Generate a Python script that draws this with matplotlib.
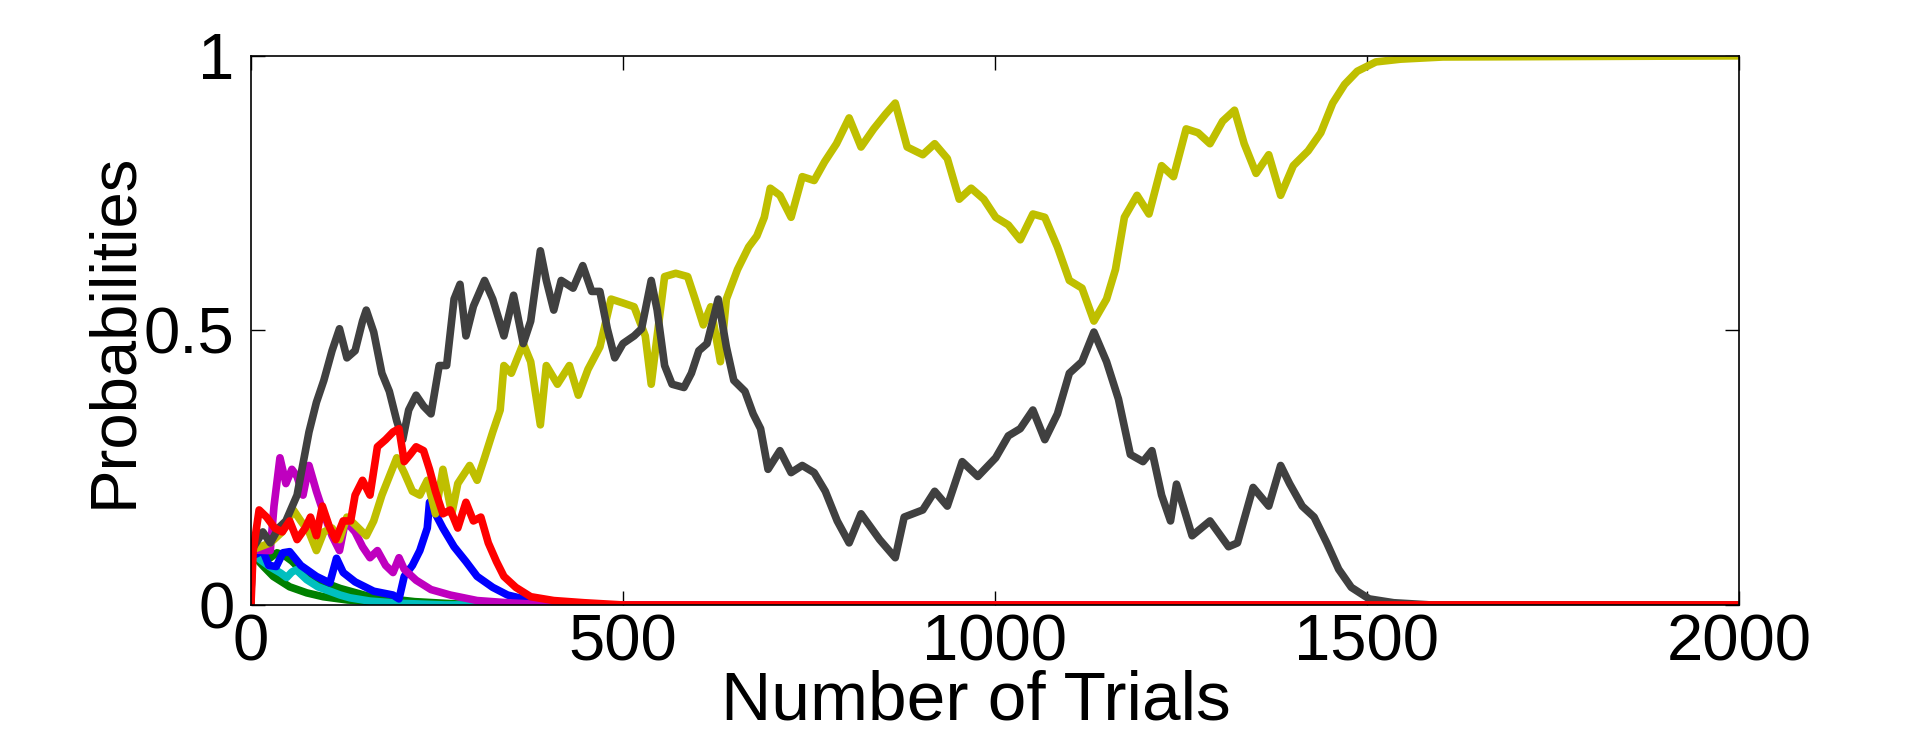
import numpy as np
import matplotlib.pyplot as plt

# trial numbers and probabilities, one pair per curve
gray_t = [0, 1, 16, 26, 37, 47, 62, 78, 88, 98, 109, 119, 129, 140, 150, 155, 165, 176, 186, 196,
          204, 212, 222, 232, 242, 253, 263, 273, 281, 289, 299, 314, 325, 340, 353, 366, 376, 389,
          397, 407, 417, 433, 446, 458, 469, 479, 489, 500, 515, 525, 538, 546, 556, 566, 582, 592,
          602, 613, 628, 639, 649, 664, 675, 685, 695, 711, 726, 741, 757, 772, 788, 804, 820, 845,
          866, 878, 903, 919, 936, 956, 977, 1001, 1018, 1034, 1051, 1067, 1084, 1100, 1117, 1133,
          1150, 1166, 1182, 1199, 1211, 1224, 1236, 1244, 1265, 1289, 1314, 1326, 1347, 1368, 1384,
          1396, 1413, 1429, 1446, 1462, 1479, 1503, 1536, 1586, 2000]
gray_p = [0, 0.10, 0.133, 0.113, 0.14, 0.153, 0.20, 0.315, 0.369, 0.409, 0.463, 0.503, 0.45, 0.463,
          0.517, 0.537, 0.497, 0.422, 0.389, 0.335, 0.301, 0.355, 0.382, 0.362, 0.348, 0.436, 0.436,
          0.557, 0.584, 0.49, 0.544, 0.591, 0.557, 0.49, 0.564, 0.476, 0.517, 0.645, 0.591, 0.537,
          0.591, 0.577, 0.618, 0.571, 0.571, 0.503, 0.45, 0.476, 0.49, 0.503, 0.591, 0.537, 0.436,
          0.402, 0.396, 0.422, 0.463, 0.476, 0.557, 0.47, 0.409, 0.389, 0.348, 0.321, 0.247, 0.281,
          0.241, 0.254, 0.241, 0.207, 0.153, 0.113, 0.166, 0.119, 0.086, 0.16, 0.173, 0.207, 0.18,
          0.261, 0.234, 0.268, 0.308, 0.321, 0.355, 0.301, 0.348, 0.422, 0.443, 0.497, 0.443, 0.375,
          0.274, 0.261, 0.281, 0.20, 0.153, 0.22, 0.126, 0.153, 0.106, 0.113, 0.214, 0.18, 0.254,
          0.221, 0.18, 0.16, 0.113, 0.065, 0.032, 0.011, 0.004, 0.0, 0.0]

yellow_t = [0, 1, 26, 42, 57, 67, 78, 88, 98, 109, 119, 129, 140, 155, 165, 176, 186, 196, 206, 217,
            227, 237, 248, 258, 270, 278, 294, 304, 314, 325, 335, 340, 350, 366, 376, 389, 397, 412,
            428, 440, 453, 469, 484, 500, 515, 530, 538, 546, 556, 571, 587, 597, 608, 618, 631, 639,
            654, 669, 680, 690, 698, 711, 726, 741, 757, 771, 787, 804, 820, 837, 853, 866, 882, 903,
            919, 936, 952, 968, 985, 1001, 1018, 1034, 1051, 1067, 1084, 1100, 1117, 1133, 1150, 1162,
            1174, 1191, 1207, 1224, 1240, 1257, 1273, 1289, 1306, 1322, 1335, 1351, 1368, 1384, 1401,
            1421, 1438, 1454, 1470, 1487, 1512, 1545, 1602, 2000]
yellow_p = [0, 0.10, 0.113, 0.133, 0.173, 0.153, 0.133, 0.099, 0.133, 0.14, 0.119, 0.16, 0.146, 0.126,
            0.153, 0.20, 0.234, 0.268, 0.241, 0.207, 0.20, 0.227, 0.166, 0.247, 0.166, 0.221, 0.254,
            0.227, 0.268, 0.315, 0.355, 0.436, 0.422, 0.476, 0.443, 0.328, 0.436, 0.402, 0.436, 0.382,
            0.429, 0.47, 0.557, 0.55, 0.543, 0.49, 0.402, 0.49, 0.598, 0.604, 0.598, 0.557, 0.51,
            0.543, 0.443, 0.557, 0.611, 0.652, 0.672, 0.706, 0.759, 0.746, 0.706, 0.78, 0.773, 0.807,
            0.84, 0.887, 0.834, 0.867, 0.894, 0.914, 0.834, 0.82, 0.84, 0.813, 0.739, 0.759, 0.739,
            0.706, 0.692, 0.665, 0.712, 0.706, 0.652, 0.591, 0.577, 0.517, 0.557, 0.611, 0.706, 0.746,
            0.712, 0.80, 0.78, 0.867, 0.86, 0.84, 0.881, 0.901, 0.84, 0.786, 0.82, 0.746, 0.80, 0.827,
            0.86, 0.914, 0.948, 0.972, 0.989, 0.994, 0.998, 1.0]

red_t = [0, 3, 11, 21, 32, 42, 52, 62, 73, 80, 88, 96, 106, 114, 124, 134, 140, 150, 160, 170, 181,
         191, 199, 206, 214, 222, 232, 240, 248, 258, 268, 278, 289, 299, 309, 319, 330, 340, 356,
         376, 407, 448, 500, 2000]
red_p = [0, 0.099, 0.173, 0.16, 0.14, 0.133, 0.153, 0.119, 0.14, 0.16, 0.126, 0.18, 0.14, 0.119,
         0.153, 0.153, 0.20, 0.227, 0.20, 0.288, 0.301, 0.315, 0.321, 0.261, 0.274, 0.288, 0.281,
         0.247, 0.207, 0.166, 0.173, 0.14, 0.187, 0.153, 0.16, 0.113, 0.079, 0.052, 0.032, 0.015,
         0.008, 0.004, 0.0, 0.0]

magenta_t = [0, 1, 26, 31, 39, 47, 55, 62, 70, 78, 88, 98, 109, 119, 127, 140, 150, 160, 170, 181,
             191, 199, 206, 222, 242, 268, 304, 345, 400, 2000]
magenta_p = [0, 0.10, 0.099, 0.18, 0.268, 0.221, 0.247, 0.234, 0.20, 0.254, 0.207, 0.166, 0.126,
             0.099, 0.153, 0.133, 0.106, 0.086, 0.099, 0.072, 0.059, 0.086, 0.065, 0.045, 0.028,
             0.018, 0.008, 0.004, 0.0, 0.0]

blue_t = [0, 1, 6, 16, 24, 34, 43, 52, 67, 88, 106, 115, 124, 140, 165, 191, 199, 206, 217, 227,
          237, 240, 248, 258, 273, 289, 304, 325, 345, 376, 420, 2000]
blue_p = [0, 0.10, 0.092, 0.099, 0.072, 0.07, 0.095, 0.097, 0.072, 0.052, 0.04, 0.085, 0.059, 0.042,
          0.025, 0.018, 0.011, 0.052, 0.072, 0.099, 0.14, 0.187, 0.166, 0.14, 0.106, 0.079, 0.052,
          0.032, 0.018, 0.008, 0.0, 0.0]

cyan_t = [0, 1, 10, 25, 40, 48, 55, 61, 75, 90, 102, 120, 133, 160, 200, 260, 2000]
cyan_p = [0, 0.10, 0.085, 0.07, 0.058, 0.05, 0.06, 0.064, 0.046, 0.033, 0.027, 0.018, 0.013, 0.007,
          0.003, 0.0, 0.0]

green2_t = [0, 1, 15, 25, 35, 45, 55, 70, 90, 120, 160, 220, 300, 2000]
green2_p = [0, 0.10, 0.09, 0.085, 0.095, 0.09, 0.08, 0.06, 0.045, 0.03, 0.015, 0.006, 0.0, 0.0]

green_t = [0, 1, 5, 17, 30, 52, 75, 97, 130, 164, 220, 300, 2000]
green_p = [0, 0.10, 0.088, 0.07, 0.052, 0.033, 0.022, 0.015, 0.009, 0.006, 0.002, 0.0, 0.0]

series = [
    (green2_t, green2_p, '#008000'),
    (green_t, green_p, '#008000'),
    (cyan_t, cyan_p, '#00BFBF'),
    (blue_t, blue_p, '#0000FF'),
    (magenta_t, magenta_p, '#BF00BF'),
    (yellow_t, yellow_p, '#BFBF00'),
    (gray_t, gray_p, '#404040'),
    (red_t, red_p, '#FF0000'),
]

plt.rcParams['font.family'] = ['Liberation Sans', 'DejaVu Sans']

fig = plt.figure(figsize=(19.2, 7.45), dpi=100)
ax = fig.add_axes([0.1307, 0.188, 0.775, 0.737])

for t, p, c in series:
    ax.plot(t, p, color=c, linewidth=5.5, solid_joinstyle='round')

ax.set_xlim(0, 2000)
ax.set_ylim(0, 1)
ax.set_xticks([0, 500, 1000, 1500, 2000])
ax.set_yticks([0, 0.5, 1])
ax.set_yticklabels(['0', '0.5', '1'])
ax.tick_params(direction='in', length=10, width=1, top=True, right=True, labelsize=47)
ax.tick_params(axis='x', pad=6)
ax.tick_params(axis='y', pad=12)
for s in ax.spines.values():
    s.set_linewidth(1.2)

ax.set_xlabel('Number of Trials', fontsize=50)
ax.xaxis.set_label_coords(0.487, -0.118)
ax.set_ylabel('Probabilities', fontsize=47, va='center')
ax.yaxis.set_label_coords(-0.092, 0.5)

fig.savefig('out.png', dpi=100)
